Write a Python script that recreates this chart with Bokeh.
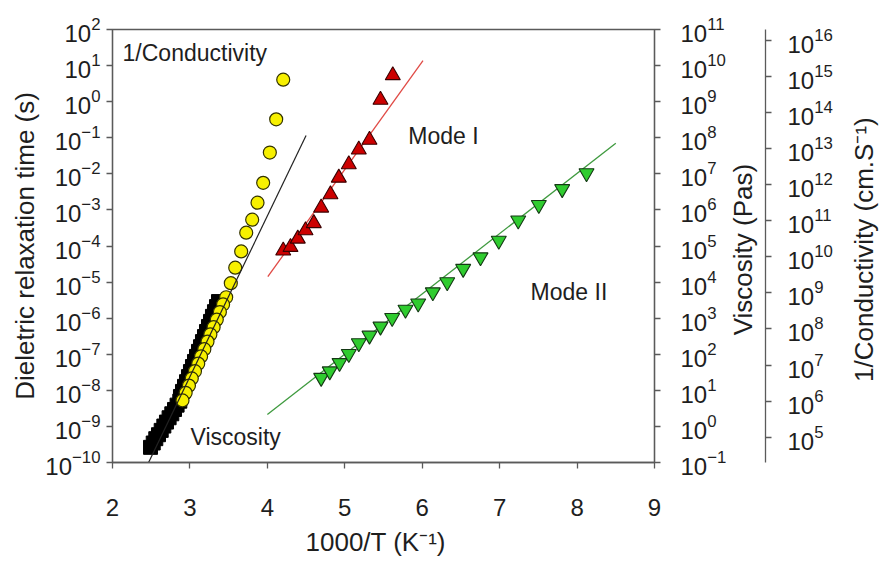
import math
from bokeh.plotting import figure
from bokeh.models import Range1d, LogScale, LogAxis, FixedTicker, Label, LogTickFormatter
from bokeh.embed import file_html
from bokeh.resources import INLINE

# ---------------- data ----------------
x_ticks = [2, 3, 4, 5, 6, 7, 8, 9]
tau_tick_exp = list(range(-10, 3))      # 10^-10 .. 10^2
visc_tick_exp = list(range(-1, 12))     # 10^-1 .. 10^11
cond_tick_exp = list(range(5, 17))      # 10^5 .. 10^16

# Viscosity (Pas), black squares  (log10 values)
visc_x = [2.491, 2.526, 2.559, 2.594, 2.629, 2.663, 2.697, 2.731, 2.766, 2.801, 2.834, 2.869,
          2.878, 2.904, 2.930, 2.956, 2.982, 3.007, 3.033, 3.059, 3.085, 3.111, 3.137, 3.162,
          3.188, 3.214, 3.240, 3.266, 3.291, 3.317, 3.343, 3.369]
visc_log = [-0.58, -0.46, -0.34, -0.23, -0.11, 0.01, 0.12, 0.24, 0.35, 0.47, 0.59, 0.70,
            0.83, 0.97, 1.11, 1.24, 1.38, 1.52, 1.66, 1.80, 1.94, 2.08, 2.21, 2.35,
            2.49, 2.63, 2.77, 2.91, 3.05, 3.18, 3.32, 3.46]

# 1/Conductivity (cm.S^-1), yellow circles (log10 values)
cond_x = [4.205, 4.114, 4.032, 3.946, 3.873, 3.804, 3.727, 3.662, 3.585, 3.528, 3.468, 3.428,
          3.387, 3.347, 3.306, 3.264, 3.227, 3.186, 3.144, 3.107, 3.065, 3.024, 2.987, 2.945, 2.904]
cond_log = [14.91, 13.81, 12.89, 12.05, 11.50, 11.03, 10.67, 10.15, 9.70, 9.27, 8.88, 8.68,
            8.47, 8.26, 8.05, 7.85, 7.65, 7.44, 7.24, 7.04, 6.83, 6.63, 6.43, 6.23, 6.02]

# Mode I dielectric relaxation time (s), red triangles (log10 values)
mode1_x = [4.205, 4.299, 4.393, 4.493, 4.600, 4.695, 4.815, 4.923, 5.052, 5.181, 5.319, 5.461, 5.620]
mode1_log = [-4.13, -4.03, -3.80, -3.57, -3.37, -2.94, -2.57, -2.11, -1.74, -1.33, -1.06, 0.05, 0.73]

# Mode II dielectric relaxation time (s), green inverted triangles (log10 values)
mode2_x = [4.695, 4.806, 4.932, 5.052, 5.181, 5.319, 5.461, 5.612, 5.784, 5.948, 6.137, 6.323,
           6.529, 6.753, 6.989, 7.240, 7.506, 7.808, 8.122]
mode2_log = [-7.65, -7.47, -7.24, -6.99, -6.69, -6.48, -6.23, -5.99, -5.76, -5.59, -5.28, -5.00,
             -4.63, -4.31, -3.85, -3.29, -2.86, -2.42, -1.98]

# fitted lines (log10 of relaxation time)
fit_black_x = [2.448, 4.50]
fit_black_log = [-10.08, -0.94]
fit_red_x = [4.006, 6.01]
fit_red_log = [-4.85, 1.14]
fit_green_x = [4.0, 8.50]
fit_green_log = [-8.67, -1.15]

# ---------------- figure ----------------
FONT = "Liberation Sans"
AX = "#5a5a5a"
TXT = "#1e1e1e"

# page margin is removed by the template below; frame: left 112, right 654, top 29, bottom 462
p = figure(width=879, height=561, x_range=Range1d(2, 9), y_range=Range1d(1e-10, 1e2),
           y_axis_type="log", output_backend="svg", toolbar_location=None,
           min_border_left=112, min_border_right=225, min_border_top=29, min_border_bottom=99)
p.background_fill_color = "white"
p.border_fill_color = "white"
p.outline_line_color = AX
p.outline_line_width = 1.3
p.xgrid.visible = False
p.ygrid.visible = False

p.extra_y_ranges = {"visc": Range1d(1e-1, 1e11), "cond": Range1d(10 ** 4.3, 10 ** 16.3)}
p.extra_y_scales = {"visc": LogScale(), "cond": LogScale()}


def style_axis(ax, lab_standoff, title_standoff):
    ax.axis_line_color = AX
    ax.axis_line_width = 1.3
    ax.major_tick_line_color = AX
    ax.major_tick_line_width = 1.3
    ax.major_tick_out = 6
    ax.major_tick_in = 0
    ax.minor_tick_line_color = None
    ax.major_label_text_font = FONT
    ax.major_label_text_font_size = "24px"
    ax.major_label_text_color = TXT
    ax.major_label_standoff = lab_standoff
    ax.axis_label_text_font = FONT
    ax.axis_label_text_font_size = "26px"
    ax.axis_label_text_font_style = "normal"
    ax.axis_label_text_color = TXT
    ax.axis_label_standoff = title_standoff


def side_title(x, y, text, angle=0.0, pad=0):
    # axis title placed in a side panel (so it is not clipped to the frame)
    lab = Label(x=x, y=y, text=text, text_font=FONT, text_font_size="26px",
                text_color=TXT, text_baseline="middle", text_align="center", angle=angle)
    if pad:
        try:
            lab.padding = pad
        except Exception:
            pass
    return lab


# bottom axis
xa = p.xaxis[0]
xa.ticker = FixedTicker(ticks=x_ticks, minor_ticks=[])
style_axis(xa, 30, 7)
p.add_layout(side_title(5.40, 10 ** -12.20, "1000/T (K\u207b\u00b9)"), "below")

# left axis
ya = p.yaxis[0]
ya.ticker = FixedTicker(ticks=[10.0 ** k for k in tau_tick_exp], minor_ticks=[])
ya.formatter = LogTickFormatter()
ya.axis_label = "Dieletric relaxation time (s)"
style_axis(ya, 6, 2)

# right axes, each followed by its title (reading bottom to top)
ax_v = LogAxis(y_range_name="visc",
               ticker=FixedTicker(ticks=[10.0 ** k for k in visc_tick_exp], minor_ticks=[]),
               formatter=LogTickFormatter())
style_axis(ax_v, 20, 10)
p.add_layout(ax_v, "right")
p.add_layout(side_title(10.137, 10 ** -4.1, "Viscosity (Pas)", math.pi / 2, pad=3), "right")

ax_c = LogAxis(y_range_name="cond",
               ticker=FixedTicker(ticks=[10.0 ** k for k in cond_tick_exp], minor_ticks=[]),
               formatter=LogTickFormatter())
style_axis(ax_c, 16, 10)
p.add_layout(ax_c, "right")
p.add_layout(side_title(11.70, 10 ** -4.1, "1/Conductivity (cm.S\u207b\u00b9)", math.pi / 2), "right")

# ---------------- glyphs ----------------
p.line(fit_red_x, [10 ** v for v in fit_red_log], line_color="#e04a45", line_width=1.3)
p.line(fit_green_x, [10 ** v for v in fit_green_log], line_color="#3f9a3f", line_width=1.3)

p.scatter(visc_x, [10 ** v for v in visc_log], marker="square", size=14,
          fill_color="black", line_color="black", y_range_name="visc")
p.scatter(cond_x, [10 ** v for v in cond_log], marker="circle", size=13,
          fill_color="#f7f000", line_color="#333300", line_width=1.2, y_range_name="cond")
p.scatter(mode1_x, [10 ** v for v in mode1_log], marker="triangle", size=15,
          fill_color="#cc0000", line_color="#3a0000", line_width=1.1)
p.scatter(mode2_x, [10 ** v for v in mode2_log], marker="inverted_triangle", size=15,
          fill_color="#2fcc2f", line_color="#143814", line_width=1.1)

p.line(fit_black_x, [10 ** v for v in fit_black_log], line_color="#222222", line_width=1.2)

# ---------------- text labels ----------------
for tx, ty, tt in [(2.13, 10 ** 1.36, "1/Conductivity"),
                   (5.82, 10 ** -0.94, "Mode I"),
                   (7.40, 10 ** -5.28, "Mode II"),
                   (3.007, 10 ** -9.30, "Viscosity")]:
    p.add_layout(Label(x=tx, y=ty, text=tt, text_font=FONT, text_font_size="23px",
                       text_color=TXT, text_baseline="middle", text_align="left"))

template = ("{% block preamble %}<style>html, body { margin: 0; padding: 0; overflow: hidden; }"
            "</style>{% endblock %}")
try:
    html = file_html(p, INLINE, template=template)
except Exception:
    html = file_html(p, INLINE)
open("out.html", "w").write(html)
